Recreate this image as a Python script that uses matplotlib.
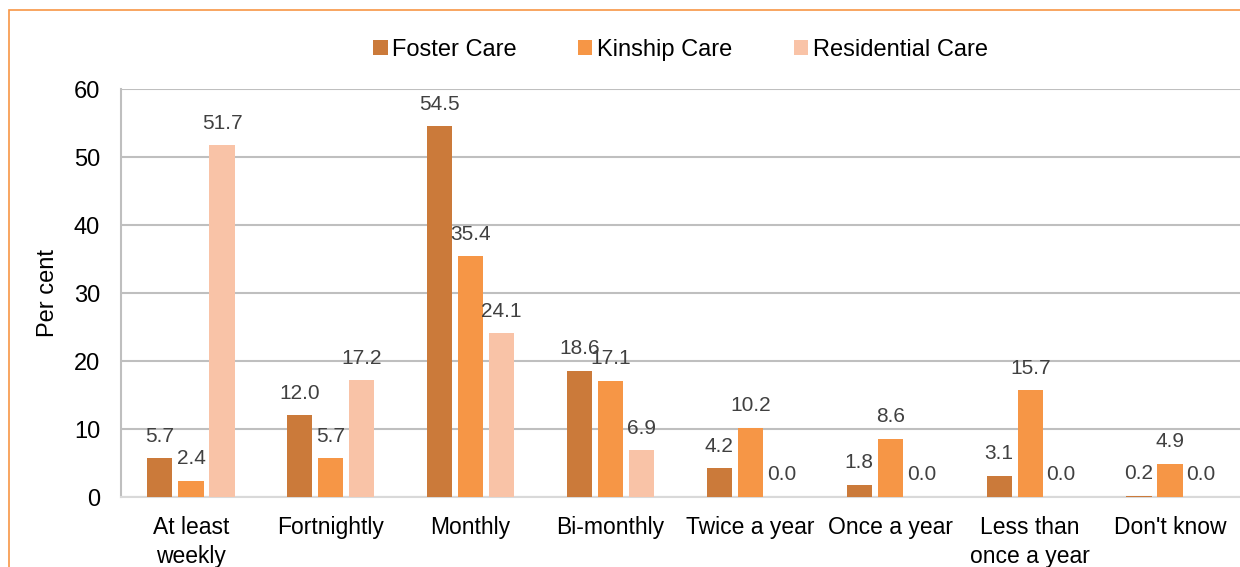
import numpy as np
import matplotlib.pyplot as plt
from matplotlib.patches import Rectangle

plt.rcParams['font.family'] = ['Liberation Sans', 'DejaVu Sans']

categories = ['At least\nweekly', 'Fortnightly', 'Monthly', 'Bi-monthly',
              'Twice a year', 'Once a year', 'Less than\nonce a year', "Don't know"]
foster = [5.7, 12.0, 54.5, 18.6, 4.2, 1.8, 3.1, 0.2]
kinship = [2.4, 5.7, 35.4, 17.1, 10.2, 8.6, 15.7, 4.9]
residential = [51.7, 17.2, 24.1, 6.9, 0.0, 0.0, 0.0, 0.0]
series_names = ['Foster Care', 'Kinship Care', 'Residential Care']
colors = ['#CB7A3A', '#F69646', '#F9C3A7']

fig = plt.figure(figsize=(12.4, 5.67), dpi=100)
W, H = 1240, 567
ax = fig.add_axes([121 / W, 1 - 497 / H, (1240 - 121) / W, (497 - 89) / H])

# orange chart frame (cut off at right and bottom)
fig.patches.append(Rectangle((9 / W, -0.1), 1.2, 1 - 10 / H + 0.1, transform=fig.transFigure,
                             fill=False, edgecolor='#F79646', linewidth=1.2, zorder=0))

x = np.arange(len(categories))
w = 0.18
off = 0.222
for i, (vals, name) in enumerate(zip([foster, kinship, residential], series_names)):
    bars = ax.bar(x + (i - 1) * off, vals, w, color=colors[i], label=name, zorder=3)
    for b, v in zip(bars, vals):
        ax.annotate('%.1f' % v, (b.get_x() + b.get_width() / 2, v), xytext=(0, 9),
                    textcoords='offset points', ha='center', va='bottom',
                    fontsize=15, color='#404040')

ax.set_xlim(-0.5, len(categories) - 0.5)
ax.set_ylim(0, 60)
ax.set_yticks(range(0, 61, 10))
ax.set_xticks(x)
ax.set_xticklabels(categories, fontsize=16.5, linespacing=1.3)
ax.tick_params(axis='y', labelsize=17, length=0, pad=15)
ax.tick_params(axis='x', length=0, pad=14)
ax.grid(axis='y', color='#BFBFBF', linewidth=1.5, zorder=0)
for s in ['top', 'right']:
    ax.spines[s].set_visible(False)
ax.spines['left'].set_color('#BFBFBF')
ax.spines['left'].set_linewidth(1.5)
ax.spines['bottom'].set_color('#D9D9D9')
ax.spines['bottom'].set_linewidth(1.5)
ax.set_ylabel('Per cent', fontsize=17, labelpad=11)

ax.legend(loc='center', bbox_to_anchor=(0.5, 1 + 39 / 408),
          ncol=3, frameon=False, fontsize=17, handlelength=0.6, handleheight=0.6,
          handletextpad=0.2, columnspacing=2.6)

fig.savefig('out.png', dpi=100)
